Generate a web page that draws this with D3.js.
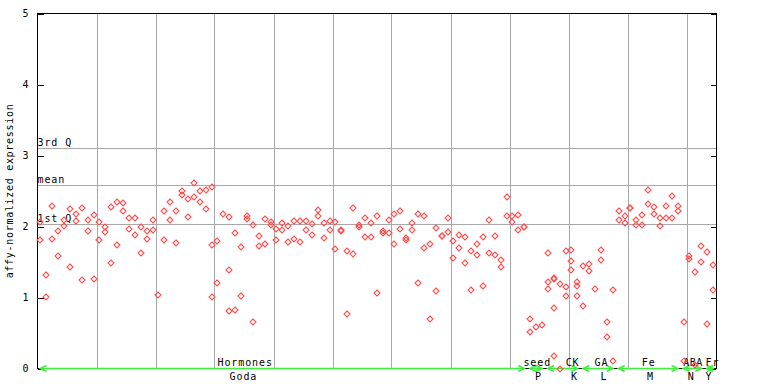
<!DOCTYPE html>
<html>
<head>
<meta charset="utf-8">
<script src="https://cdn.jsdelivr.net/npm/d3@7"></script>
<style>
  body { margin: 0; background: #fff; }
  svg { display: block; }
  text { font-family: "DejaVu Sans Mono", monospace; fill: #000; }
</style>
</head>
<body>
<div id="chart"></div>
<script>
// expression values per sample (one array per sample, replicates inside)
var values = [
  [2.07, 1.81], [1.31, 1.01], [2.29, 1.83], [1.94, 1.59], [2.09, 2.01],
  [2.24, 1.43], [2.17, 2.08], [2.26, 1.25], [2.09, 1.94], [2.16, 1.26],
  [2.06, 1.81], [1.99, 1.92], [2.27, 1.48], [2.35, 1.74], [2.33, 2.22],
  [2.12, 1.97], [2.12, 1.88], [1.99, 1.63], [1.94, 1.83], [2.09, 1.95],
  [1.03], [2.22, 1.81], [2.34, 2.09], [2.22, 1.77], [2.50, 2.44],
  [2.39, 2.14], [2.61, 2.41], [2.50, 2.34], [2.52, 2.25], [2.55, 1.74, 1.01],
  [1.80, 1.21], [2.18], [2.13, 1.39, 0.81], [1.91, 0.83], [1.71, 1.02],
  [2.15, 2.11], [2.02, 0.66], [1.87, 1.72], [2.10, 1.75], [2.07, 2.02],
  [1.96, 1.81], [2.05, 1.95], [2.01, 1.78], [2.08, 1.82], [2.08, 1.78],
  [2.08, 1.95], [2.03, 1.88], [2.23, 2.15], [2.05, 1.84], [2.08, 1.95],
  [2.07, 1.68], [1.95, 1.93], [1.65, 0.77], [2.26, 1.61], [2.02, 1.99],
  [2.12, 1.85], [2.05, 1.85], [2.15, 1.07], [1.94, 1.91], [2.09, 1.91],
  [2.17, 1.75], [2.22, 1.96], [1.84, 1.81], [2.05, 1.95], [2.17, 1.21],
  [2.15, 1.70], [1.75, 0.70], [1.98, 1.09], [1.86, 1.86], [2.12, 1.92],
  [1.79, 1.56], [1.88, 1.70], [1.85, 1.48], [1.65, 1.11], [1.75, 1.60],
  [1.85, 1.16], [2.09, 1.63], [1.86, 1.60], [1.53, 1.43], [2.41, 2.15],
  [2.15, 2.07], [2.16, 1.95], [1.99, 1.99], [0.70, 0.51], [0.58],
  [0.61], [1.63, 1.22, 1.12], [1.28, 1.26, 0.85, 0.18], [1.19, 0.00], [1.66, 1.15, 1.02],
  [1.67, 1.52, 1.39], [1.22, 1.16, 1.02], [1.44, 0.88], [1.47, 1.37], [1.12],
  [1.67, 1.53], [0.65, 0.44], [1.10, 0.10], [2.22, 2.09], [2.15, 2.05],
  [2.26, 2.26], [2.09, 2.02], [2.16, 2.02], [2.51, 2.32], [2.27, 2.17],
  [2.12, 2.01], [2.29, 2.12], [2.43, 2.12], [2.29, 2.22], [0.65, 0.10],
  [1.58, 1.54], [1.36, 0.05], [1.72, 1.50], [1.64, 0.63], [1.46, 1.10]
];

// experiment groups along the bottom
var catNames  = ["Hormones", "seed", "CK", "GA", "Fe", "ABA", "Fr"];
var catCodes  = ["Goda", "P", "K", "L", "M", "N", "Y"];
var catStart  = [0, 83, 86, 92, 98, 109, 113];
var catEnd    = [82, 85, 91, 97, 108, 112, 114];
var catNameAt = [34.7, 84.2, 90.2, 95.1, 103.1, 110.6, 113.9];
var catCodeAt = [34.4, 84.4, 90.5, 95.5, 103.4, 110.3, 113.3];

// reference lines
var refNames  = ["3rd Q", "mean", "1st Q"];
var refValues = [3.10, 2.58, 2.03];

var yTicks = [0, 1, 2, 3, 4, 5];
var nSamples = values.length;

var W = 768, H = 384;
var svg = d3.select("#chart").append("svg")
  .attr("width", W).attr("height", H);

var x = d3.scaleLinear().domain([0, nSamples]).range([37.5, 716]);
var y = d3.scaleLinear().domain([0, 5]).range([368.5, 13.5]);

var grid = svg.append("g")
  .attr("stroke", "#a8a8a8")
  .attr("shape-rendering", "crispEdges");

// vertical grid every 10 samples
grid.selectAll("line.v")
  .data(d3.range(10, nSamples, 10))
  .enter().append("line")
  .attr("class", "v")
  .attr("x1", function(d) { return Math.round(x(d)) + 0.5; })
  .attr("x2", function(d) { return Math.round(x(d)) + 0.5; })
  .attr("y1", y(5)).attr("y2", y(0));

// quartile / mean lines
grid.selectAll("line.h")
  .data(refValues)
  .enter().append("line")
  .attr("class", "h")
  .attr("x1", x(0)).attr("x2", x(nSamples))
  .attr("y1", function(d) { return Math.round(y(d)) + 0.5; })
  .attr("y2", function(d) { return Math.round(y(d)) + 0.5; });

svg.append("g").selectAll("text")
  .data(refNames)
  .enter().append("text")
  .attr("x", x(0))
  .attr("y", function(d, i) { return Math.round(y(refValues[i])) - 2; })
  .attr("font-size", "10px")
  .attr("letter-spacing", "0.9px")
  .text(function(d) { return d; });

// frame
svg.append("rect")
  .attr("x", x(0)).attr("y", y(5))
  .attr("width", x(nSamples) - x(0)).attr("height", y(0) - y(5))
  .attr("fill", "none").attr("stroke", "#000")
  .attr("shape-rendering", "crispEdges");

// left axis, ticks pointing into the plot
var yAxis = svg.append("g")
  .attr("transform", "translate(" + x(0) + ",0)")
  .call(d3.axisLeft(y).tickValues(yTicks).tickSizeInner(-6).tickSizeOuter(0)
    .tickPadding(9).tickFormat(d3.format("d")));
yAxis.select(".domain").remove();
yAxis.selectAll("text")
  .attr("font-family", "DejaVu Sans Mono, monospace")
  .attr("font-size", "10px");
yAxis.selectAll("line").attr("shape-rendering", "crispEdges");

var yAxisR = svg.append("g")
  .attr("transform", "translate(" + x(nSamples) + ",0)")
  .call(d3.axisRight(y).tickValues(yTicks).tickSizeInner(-5).tickSizeOuter(0)
    .tickFormat(""));
yAxisR.select(".domain").remove();
yAxisR.selectAll("line").attr("shape-rendering", "crispEdges");

svg.append("text")
  .attr("transform", "translate(13," + ((y(0) + y(5)) / 2) + ") rotate(-90)")
  .attr("text-anchor", "middle")
  .attr("font-size", "10px")
  .attr("letter-spacing", "0.7px")
  .text("affy-normalized expression");

// group arrows along the baseline
var green = "#3ef03e";
var arrows = svg.append("g")
  .attr("stroke", green).attr("fill", "none").attr("stroke-width", 1.6);
catNames.forEach(function(name, i) {
  var x0 = x(catStart[i] + 0.5), x1 = x(catEnd[i] + 0.5), yy = y(0);
  arrows.append("line")
    .attr("x1", x0).attr("x2", x1).attr("y1", yy).attr("y2", yy);
  arrows.append("path")
    .attr("d", "M" + (x0 + 6) + "," + (yy - 3) + "L" + x0 + "," + yy + "L" + (x0 + 6) + "," + (yy + 3));
  arrows.append("path")
    .attr("d", "M" + (x1 - 6) + "," + (yy - 3) + "L" + x1 + "," + yy + "L" + (x1 - 6) + "," + (yy + 3));
});

svg.append("g").selectAll("text")
  .data(catNames)
  .enter().append("text")
  .attr("x", function(d, i) { return x(catNameAt[i] + 0.5); })
  .attr("y", 366)
  .attr("text-anchor", "middle")
  .attr("font-size", "10px")
  .attr("letter-spacing", function(d) { return d.length > 2 && d.length < 4 ? "0.5px" : "0.9px"; })
  .text(function(d) { return d; });

svg.append("g").selectAll("text")
  .data(catCodes)
  .enter().append("text")
  .attr("x", function(d, i) { return x(catCodeAt[i] + 0.5); })
  .attr("y", 380)
  .attr("text-anchor", "middle")
  .attr("font-size", "10px")
  .attr("letter-spacing", "0.9px")
  .text(function(d) { return d; });

// points: small hollow diamonds
var pts = [];
values.forEach(function(reps, i) {
  reps.forEach(function(v) { pts.push({i: i, v: v}); });
});
svg.append("g").selectAll("path")
  .data(pts)
  .enter().append("path")
  .attr("transform", function(d) {
    return "translate(" + Math.round(x(d.i + 0.5)) + "," + Math.round(y(d.v)) + ")";
  })
  .attr("d", "M0,-3L3,0L0,3L-3,0Z")
  .attr("fill", "none")
  .attr("stroke", "#ff5050")
  .attr("stroke-width", 1.1);
</script>
</body>
</html>
